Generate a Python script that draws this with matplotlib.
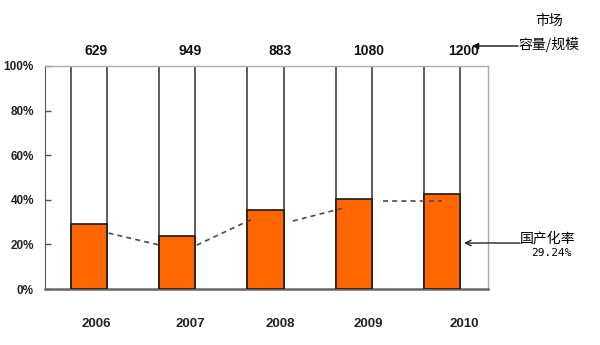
import matplotlib.pyplot as plt
import numpy as np

# market size and localisation rate by year
years = ['2006', '2007', '2008', '2009', '2010']
market_size = [629, 949, 883, 1080, 1200]
local_rate = [29.0, 23.8, 35.4, 40.4, 42.6]

# dashed trend segments (x in bar index units, y in %)
trend_x0 = [0.22, 1.22, 2.31, 3.33]
trend_y0 = [25.1, 19.7, 30.5, 39.5]
trend_x1 = [0.80, 1.85, 2.88, 4.00]
trend_y1 = [19.7, 31.4, 36.3, 39.5]

cjk = ['Noto Sans CJK SC', 'DejaVu Sans']
num_font = 'Liberation Sans'

fig = plt.figure(figsize=(6, 3.45), dpi=100)
ax = fig.add_axes([0.075, 0.162, 0.738, 0.647])

x = np.arange(len(years))
# category text sits a little right of each bar
label_x = x + np.array([0.08, 0.15, 0.17, 0.17, 0.25])
w = 0.41
ax.bar(x, [100] * len(x), width=w, color='white', edgecolor='#333333', linewidth=1.1, zorder=2)
ax.bar(x, local_rate, width=w, color='#FF6600', edgecolor='#1a1a1a', linewidth=1.2, zorder=3)

for a, b, c, d in zip(trend_x0, trend_y0, trend_x1, trend_y1):
    ax.plot([a, c], [b, d], ls=(0, (3, 2.5)), color='#4a4a4a', lw=1.2, zorder=4)

ax.set_xlim(-0.5, 4.52)
ax.set_ylim(0, 100)
ax.set_yticks(range(0, 101, 20))
ax.set_yticklabels([f'{v}%' for v in range(0, 101, 20)],
                   fontfamily=num_font, fontweight='bold', fontsize=8.5, color='#222222')
ax.set_xticks(label_x)
ax.set_xticklabels(years, fontfamily=num_font, fontweight='bold', fontsize=9.5, color='#222222')
ax.tick_params(axis='x', length=0, pad=21)
ax.tick_params(axis='y', direction='in', length=4, width=1, color='#555555', pad=8)

ax.spines['left'].set_color('#555555')
ax.spines['bottom'].set_color('#666666')
ax.spines['bottom'].set_linewidth(1.8)
for s in ['top', 'right']:
    ax.spines[s].set_color('#aaaaaa')
    ax.spines[s].set_linewidth(1.0)

# market size labels above the plot
for xi, v in zip(label_x, market_size):
    ax.text(xi, 1.068, str(v), transform=ax.get_xaxis_transform(), ha='center', va='center',
            fontfamily=num_font, fontweight='bold', fontsize=10, color='#111111')

# side annotations
fig.text(549 / 600, 1 - 21 / 345, '市场', family=cjk, fontsize=10, ha='center', va='center')
fig.text(549 / 600, 1 - 45 / 345, '容量/规模', family=cjk, fontsize=10, ha='center', va='center')
ax.annotate('', xy=(472 / 600, 1 - 46 / 345), xytext=(518 / 600, 1 - 46 / 345),
            xycoords='figure fraction', textcoords='figure fraction',
            arrowprops=dict(arrowstyle='-|>', mutation_scale=9, color='#111111', lw=1,
                            shrinkA=0, shrinkB=0))

fig.text(548 / 600, 1 - 238 / 345, '国产化率', family=cjk, fontsize=10, ha='center', va='center')
fig.text(551 / 600, 1 - 253 / 345, '29.24%', family='DejaVu Sans Mono', fontsize=8, ha='center', va='center')
ax.annotate('', xy=(464 / 600, 1 - 243 / 345), xytext=(520 / 600, 1 - 243 / 345),
            xycoords='figure fraction', textcoords='figure fraction',
            arrowprops=dict(arrowstyle='->', color='#222222', lw=1, shrinkA=0, shrinkB=0))

fig.savefig('out.png', dpi=100)
